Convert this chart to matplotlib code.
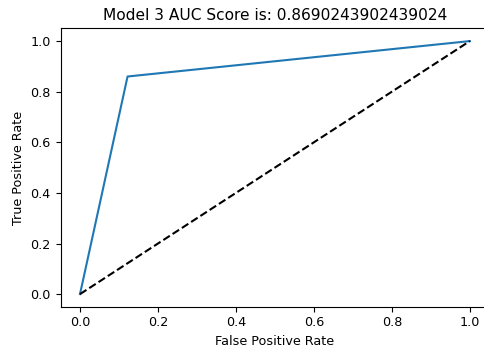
import matplotlib
matplotlib.use("Agg")
import matplotlib.pyplot as plt

fpr = [0.0, 0.122, 1.0]
tpr = [0.0, 0.860, 1.0]
diag = [0.0, 1.0]
auc_score = 0.8690243902439024

# text in the reference is a bit smaller than the default
plt.rcParams['font.size'] = 9.2

fig = plt.figure(figsize=(4.84, 3.51), dpi=100)
# the reference is cropped on the right, so the axes run past the edge
ax = fig.add_axes([0.125, 0.126, 0.886, 0.793])

ax.plot(fpr, tpr, color='#1f77b4')
ax.plot(diag, diag, 'k--')

ax.set_xlabel('False Positive Rate')
ax.set_ylabel('True Positive Rate')
ax.set_title('Model 3 AUC Score is: ' + str(auc_score))

fig.savefig('out.png', dpi=100)
